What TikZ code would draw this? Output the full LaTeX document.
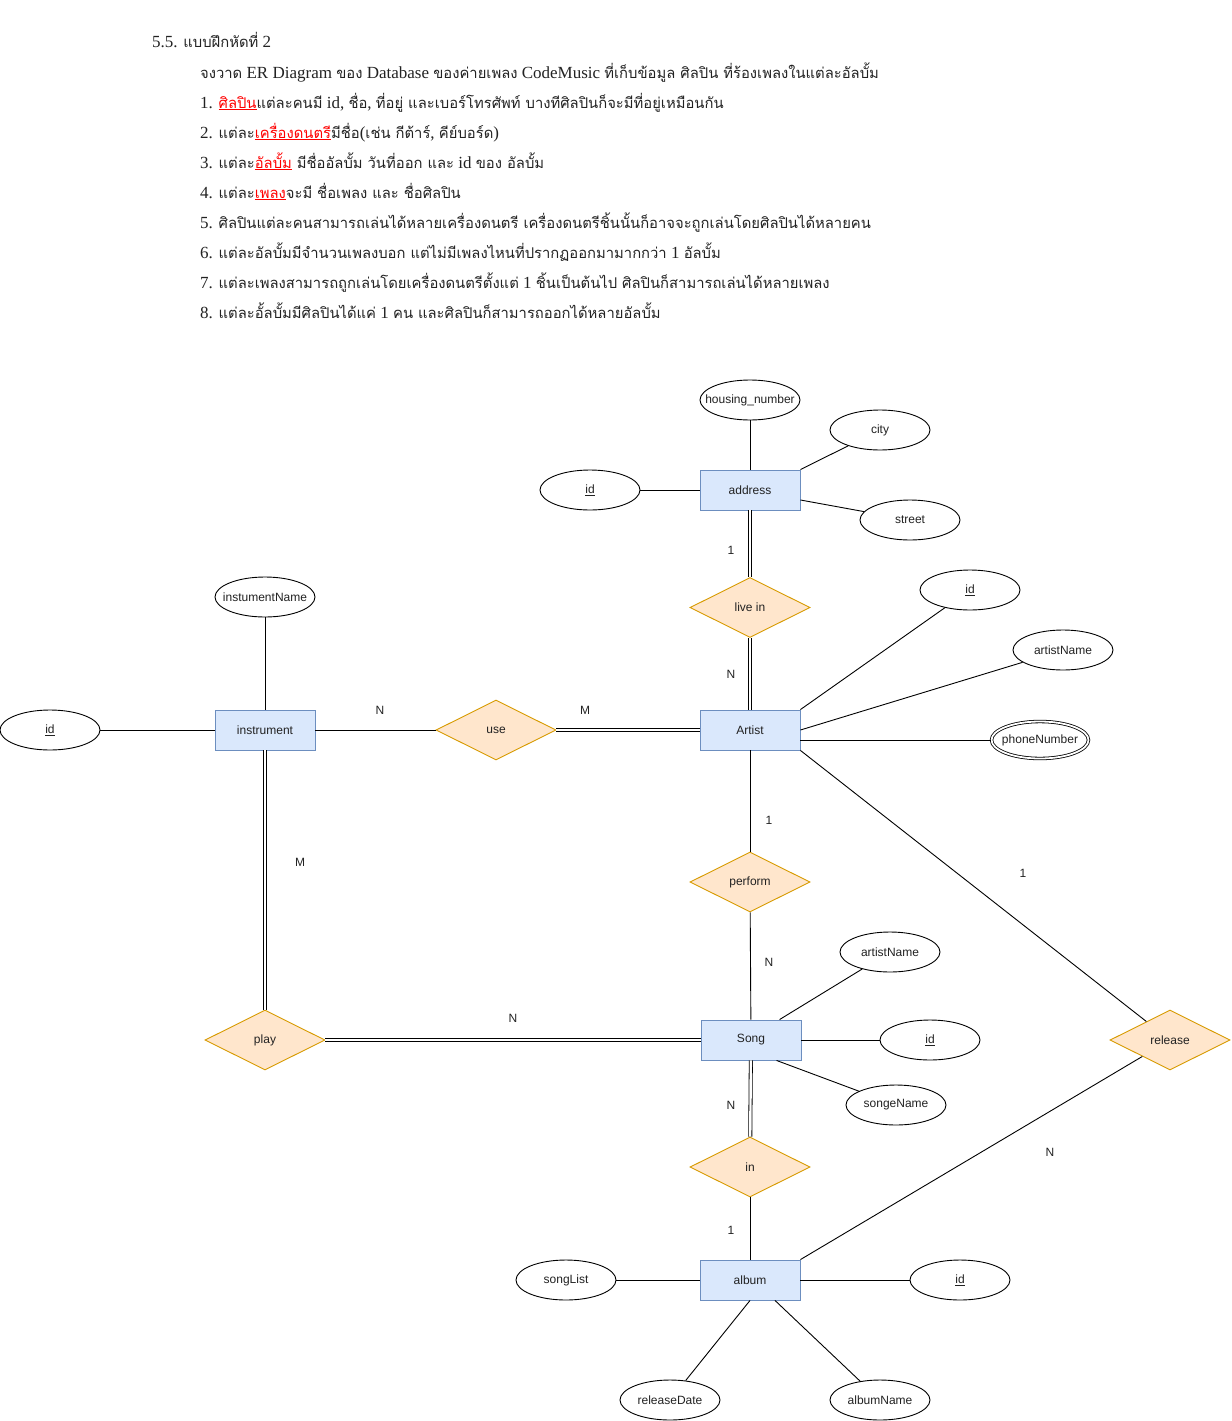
\documentclass[tikz,border=0pt]{standalone}
\usepackage{fontspec}
\setmainfont{Liberation Serif}
\newfontfamily\thaifont[Script=Thai]{Loma}
\newfontfamily\dsans{Liberation Sans}
\usetikzlibrary{shapes.geometric,calc}

\definecolor{entfill}{HTML}{DAE8FC}
\definecolor{entstroke}{HTML}{6C8EBF}
\definecolor{relfill}{HTML}{FFE6CC}
\definecolor{relstroke}{HTML}{D79B00}
\definecolor{ink}{HTML}{222222}

% Thai runs are set in Loma, a little smaller than the Latin serif
\newcommand{\T}[1]{{\thaifont\fontsize{14.8}{18}\selectfont #1}}
\newcommand{\redul}[1]{\textcolor{red}{\underline{#1}}}
% fixed-size ellipses: the label does not widen the shape
\newcommand{\lbl}[1]{\makebox[0pt]{#1}}

\begin{document}
\begin{tikzpicture}[x=1pt,y=-1pt,
  every node/.style={font=\dsans\fontsize{12}{14}\selectfont, text=ink},
  entity/.style={draw=entstroke, fill=entfill, line width=0.9pt, minimum width=100pt, minimum height=40pt, inner sep=0pt},
  attr/.style={draw=black, fill=white, line width=0.9pt, ellipse, minimum width=100pt, minimum height=40pt, inner sep=0pt},
  multi/.style={draw=black, fill=white, line width=0.8pt, double=white, double distance=1.8pt, ellipse, minimum width=97pt, minimum height=37pt, inner sep=0pt},
  rel/.style={draw=relstroke, fill=relfill, line width=0.9pt, diamond, minimum width=120pt, minimum height=60pt, inner sep=0pt},
  link/.style={draw=black, line width=0.9pt},
  dlink/.style={draw=black, line width=0.8pt, double=white, double distance=2.4pt},
  card/.style={inner sep=0pt},
  note/.style={anchor=base west, inner sep=0pt, font=\fontsize{17}{20}\selectfont, text=ink}]

\useasboundingbox (0,0) rectangle (1231,1421);

% exercise text
\node[note] (t0) at (152,48) {5.5. \T{แบบฝึกหัดที่} 2};
\node[note] (t1) at (200,78) {\T{จงวาด} ER Diagram \T{ของ} Database \T{ของค่ายเพลง} CodeMusic \T{ที่เก็บข้อมูล ศิลปิน ที่ร้องเพลงในแต่ละอัลบั้ม}};
\node[note] (t2) at (200,108) {1. \T{\redul{ศิลปิน}แต่ละคนมี} id, \T{ชื่อ}, \T{ที่อยู่ และเบอร์โทรศัพท์ บางทีศิลปินก็จะมีที่อยู่เหมือนกัน}};
\node[note] (t3) at (200,138) {2. \T{แต่ละ\redul{เครื่องดนตรี}มีชื่อ}(\T{เช่น กีต้าร์}, \T{คีย์บอร์ด})};
\node[note] (t4) at (200,168) {3. \T{แต่ละ\redul{อัลบั้ม} มีชื่ออัลบั้ม วันที่ออก และ} id \T{ของ อัลบั้ม}};
\node[note] (t5) at (200,198) {4. \T{แต่ละ\redul{เพลง}จะมี ชื่อเพลง และ ชื่อศิลปิน}};
\node[note] (t6) at (200,228) {5. \T{ศิลปินแต่ละคนสามารถเล่นได้หลายเครื่องดนตรี เครื่องดนตรีชิ้นนั้นก็อาจจะถูกเล่นโดยศิลปินได้หลายคน}};
\node[note] (t7) at (200,258) {6. \T{แต่ละอัลบั้มมีจำนวนเพลงบอก แต่ไม่มีเพลงไหนที่ปรากฏออกมามากกว่า} 1 \T{อัลบั้ม}};
\node[note] (t8) at (200,288) {7. \T{แต่ละเพลงสามารถถูกเล่นโดยเครื่องดนตรีตั้งแต่} 1 \T{ชิ้นเป็นต้นไป ศิลปินก็สามารถเล่นได้หลายเพลง}};
\node[note] (t9) at (200,318) {8. \T{แต่ละอั้ลบั้มมีศิลปินได้แค่} 1 \T{คน และศิลปินก็สามารถออกได้หลายอัลบั้ม}};

% entities
\node[entity] (addr) at (750,490) {address};
\node[entity] (artist) at (750,730) {Artist};
\node[entity] (instr) at (265,730) {instrument};
\node[entity] (song) at (751,1040) {Song};
\node[entity] (album) at (750,1280) {album};

% relationships
\node[rel] (livein) at (750,607.5) {live in};
\node[rel] (use) at (496,730) {use};
\node[rel] (perform) at (750,882) {perform};
\node[rel] (play) at (265,1040) {play};
\node[rel] (release) at (1170,1040) {release};
\node[rel] (inrel) at (750,1167) {in};

% attributes
\node[attr] (hn) at (750,400) {\lbl{housing\_number}};
\node[attr] (city) at (880,430) {\lbl{city}};
\node[attr] (street) at (910,520) {\lbl{street}};
\node[attr] (addrid) at (590,490) {\lbl{\underline{id}}};
\node[attr] (artid) at (970,590) {\lbl{\underline{id}}};
\node[attr] (artname) at (1063,650) {\lbl{artistName}};
\node[multi] (phone) at (1040,740) {\lbl{phoneNumber}};
\node[attr] (iname) at (265,597) {\lbl{instumentName}};
\node[attr] (iid) at (50,730) {\lbl{\underline{id}}};
\node[attr] (sartist) at (890,952) {\lbl{artistName}};
\node[attr] (sid) at (930,1040) {\lbl{\underline{id}}};
\node[attr] (sname) at (896,1105) {\lbl{songeName}};
\node[attr] (slist) at (566,1280) {\lbl{songList}};
\node[attr] (aid) at (960,1280) {\lbl{\underline{id}}};
\node[attr] (rdate) at (670,1400) {\lbl{releaseDate}};
\node[attr] (aname) at (880,1400) {\lbl{albumName}};

% attribute links
\draw[link] (hn) -- (addr);
\draw[link] (addr.north east) -- (city);
\draw[link] ($(addr.east)+(0,10)$) -- (street);
\draw[link] (addrid) -- (addr);
\draw[link] (artist.north east) -- (artid);
\draw[link] (artist.east) -- (artname);
\draw[link] ($(artist.east)+(0,10)$) -- (phone);
\draw[link] (iname) -- (instr);
\draw[link] (iid) -- (instr);
\draw[link] ($(song.north west)+(79,0)$) -- (sartist);
\draw[link] (song) -- (sid);
\draw[link] ($(song.south west)+(76,0)$) -- (sname);
\draw[link] (slist) -- (album);
\draw[link] (album) -- (aid);
\draw[link] (album.south) -- (rdate);
\draw[link] ($(album.south)+(25,0)$) -- (aname);

% relationship links
\draw[dlink] (addr) -- (livein);
\draw[dlink] (livein) -- (artist);
\draw[link] (instr) -- (use);
\draw[dlink] (use) -- (artist);
\draw[link] (artist) -- (perform);
\draw[link] (perform) -- (song);
\draw[dlink] (instr) -- (play);
\draw[dlink] (play) -- (song);
\draw[dlink] (song) -- (inrel);
\draw[link] (inrel) -- (album);
\draw[link] (artist.south east) -- (release);
\draw[link] (release) -- (album.north east);

% cardinalities
\node[card] (k1) at (731,550) {1};
\node[card] (k2) at (731,674) {N};
\node[card] (k3) at (380,710) {N};
\node[card] (k4) at (585,710) {M};
\node[card] (k5) at (769,820) {1};
\node[card] (k6) at (1023,873) {1};
\node[card] (k7) at (300,862) {M};
\node[card] (k8) at (769,962) {N};
\node[card] (k9) at (513,1018) {N};
\node[card] (k10) at (731,1105) {N};
\node[card] (k11) at (731,1230) {1};
\node[card] (k12) at (1050,1152) {N};
\end{tikzpicture}
\end{document}
